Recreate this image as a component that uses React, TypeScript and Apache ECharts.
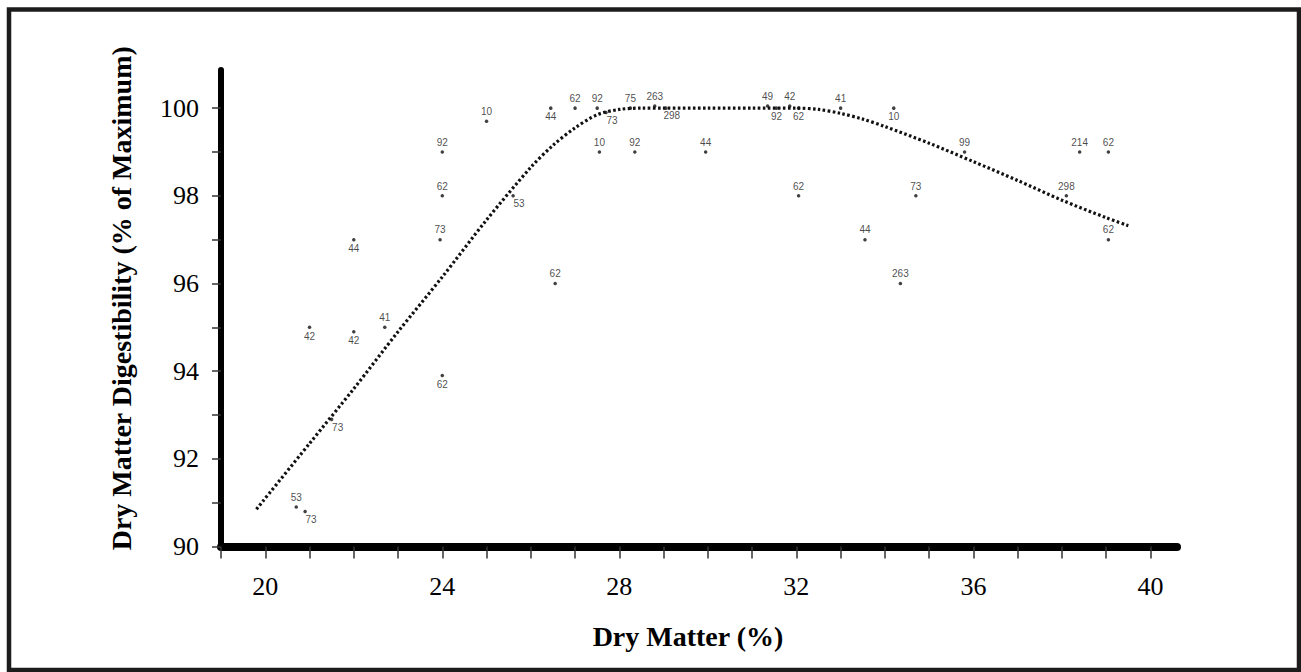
import React, { useEffect, useRef } from "react";
import * as echarts from "echarts";

// Observed data points: dry matter (%), digestibility (% of max), study label
const pointX = [20.7, 20.9, 21.0, 21.5, 22.0, 22.0, 22.7, 24.0, 24.0, 23.95, 24.0, 25.0, 25.6, 26.45, 26.55, 27.0, 27.5, 27.7, 27.55, 28.25, 28.35, 28.8, 29.05, 29.95, 31.35, 31.55, 31.85, 32.05, 32.05, 33.0, 33.55, 34.2, 34.35, 34.7, 35.8, 38.1, 38.4, 39.05, 39.05];
const pointY = [90.9, 90.8, 95.0, 92.9, 97.0, 94.9, 95.0, 99.0, 98.0, 97.0, 93.9, 99.7, 98.0, 100.0, 96.0, 100.0, 100.0, 99.9, 99.0, 100.0, 99.0, 100.05, 100.0, 99.0, 100.05, 100.0, 100.05, 100.0, 98.0, 100.0, 97.0, 100.0, 96.0, 98.0, 99.0, 98.0, 99.0, 99.0, 97.0];
const pointLabels = ["53", "73", "42", "73", "44", "42", "41", "92", "62", "73", "62", "10", "53", "44", "62", "62", "92", "73", "10", "75", "92", "263", "298", "44", "49", "92", "42", "62", "62", "41", "44", "10", "263", "73", "99", "298", "214", "62", "62"];
const labelPlacement = ["t", "br", "b", "br", "b", "b", "t", "t", "t", "t", "b", "t", "br", "b", "t", "t", "t", "br", "t", "t", "t", "t", "br", "t", "t", "b", "t", "b", "t", "t", "t", "b", "t", "t", "t", "t", "t", "t", "t"];

// Fitted response curve (dotted)
const curveX = [19.8, 21.0, 22.0, 23.0, 24.0, 25.0, 26.0, 26.5, 27.0, 27.5, 28.0, 28.5, 29.0, 30.0, 31.0, 32.0, 32.5, 33.0, 33.5, 34.0, 35.0, 36.0, 37.0, 38.0, 39.0, 39.5];
const curveY = [90.85, 92.35, 93.6, 94.9, 96.15, 97.45, 98.65, 99.15, 99.55, 99.85, 99.97, 100.0, 100.0, 100.0, 100.0, 100.0, 99.97, 99.88, 99.75, 99.58, 99.2, 98.78, 98.35, 97.9, 97.5, 97.32];

// Axis ticks and tick labels
const xTickValues = [19, 20, 21, 22, 23, 24, 25, 26, 27, 28, 29, 30, 31, 32, 33, 34, 35, 36, 37, 38, 39, 40];
const xLabelValues = [20, 24, 28, 32, 36, 40];
const yTickValues = [90, 91, 92, 93, 94, 95, 96, 97, 98, 99, 100];
const yLabelValues = [90, 92, 94, 96, 98, 100];

const xTitle = "Dry Matter (%)";
const yTitle = "Dry Matter Digestibility (% of Maximum)";

const serif = "'Liberation Serif', 'Times New Roman', serif";
const sans = "'Liberation Sans', Arial, sans-serif";

export default function App() {
  const ref = useRef<HTMLDivElement>(null);

  useEffect(() => {
    if (!ref.current) return;
    const chart = echarts.init(ref.current, undefined, { renderer: "svg" });

    const labelBase = {
      show: true,
      formatter: "{b}",
      fontFamily: sans,
      fontSize: 10,
      color: "#1a1a1a",
    };

    const placementStyle = (p: string) => {
      if (p === "b") return { ...labelBase, position: "bottom", distance: 2 };
      if (p === "br") return { ...labelBase, position: "bottom", distance: 1, offset: [6, 0] };
      return { ...labelBase, position: "top", distance: 3 };
    };

    const scatterData = pointX.map((x, i) => ({
      name: pointLabels[i],
      value: [x, pointY[i]],
      label: placementStyle(labelPlacement[i]),
    }));

    const curveData = curveX.map((x, i) => [x, curveY[i]]);

    chart.setOption({
      animation: false,
      backgroundColor: "#ffffff",
      graphic: [
        {
          type: "rect",
          shape: { x: 9, y: 9.5, width: 1290, height: 660.5 },
          style: { fill: "none", stroke: "#1c1c1c", lineWidth: 4.5 },
          silent: true,
        },
      ],
      grid: {
        left: 221,
        right: 124,
        top: 70,
        bottom: 125.5,
        outerBoundsMode: "none",
      },
      xAxis: {
        type: "value",
        min: 19,
        max: 40.6,
        name: xTitle,
        nameLocation: "middle",
        nameGap: 76,
        nameTextStyle: {
          fontFamily: serif,
          fontWeight: "bold",
          fontSize: 28,
          color: "#000",
          padding: [0, 22, 0, 0],
        },
        axisLine: {
          show: true,
          onZero: false,
          lineStyle: { color: "#000", width: 8, cap: "round" },
        },
        axisTick: {
          show: true,
          customValues: xTickValues,
          length: 12,
          lineStyle: { color: "#333", width: 1.5 },
        },
        axisLabel: {
          customValues: xLabelValues,
          fontFamily: serif,
          fontSize: 26,
          color: "#000",
          margin: 27,
        },
        splitLine: { show: false },
      },
      yAxis: {
        type: "value",
        min: 90,
        max: 100.87,
        name: yTitle,
        nameLocation: "middle",
        nameGap: 86,
        nameRotate: 90,
        nameTextStyle: {
          fontFamily: serif,
          fontWeight: "bold",
          fontSize: 28,
          color: "#000",
          padding: [0, 0, 0, 20],
        },
        axisLine: {
          show: true,
          onZero: false,
          lineStyle: { color: "#000", width: 6 },
        },
        axisTick: {
          show: true,
          customValues: yTickValues,
          length: 9,
          lineStyle: { color: "#333", width: 1.5 },
        },
        axisLabel: {
          customValues: yLabelValues,
          fontFamily: serif,
          fontSize: 26,
          color: "#000",
          margin: 22,
        },
        splitLine: { show: false },
      },
      series: [
        {
          type: "line",
          data: curveData,
          showSymbol: false,
          smooth: 0.3,
          lineStyle: { color: "#111", width: 3.2, type: [2.6, 2.4] },
          z: 2,
          silent: true,
        },
        {
          type: "scatter",
          data: scatterData,
          symbol: "circle",
          symbolSize: 3.5,
          itemStyle: { color: "#111" },
          label: labelBase,
          z: 3,
        },
      ],
    });

    return () => chart.dispose();
  }, []);

  return (
    <div
      ref={ref}
      style={{ position: "fixed", left: 0, top: 0, width: 1301, height: 672, background: "#fff" }}
    />
  );
}
